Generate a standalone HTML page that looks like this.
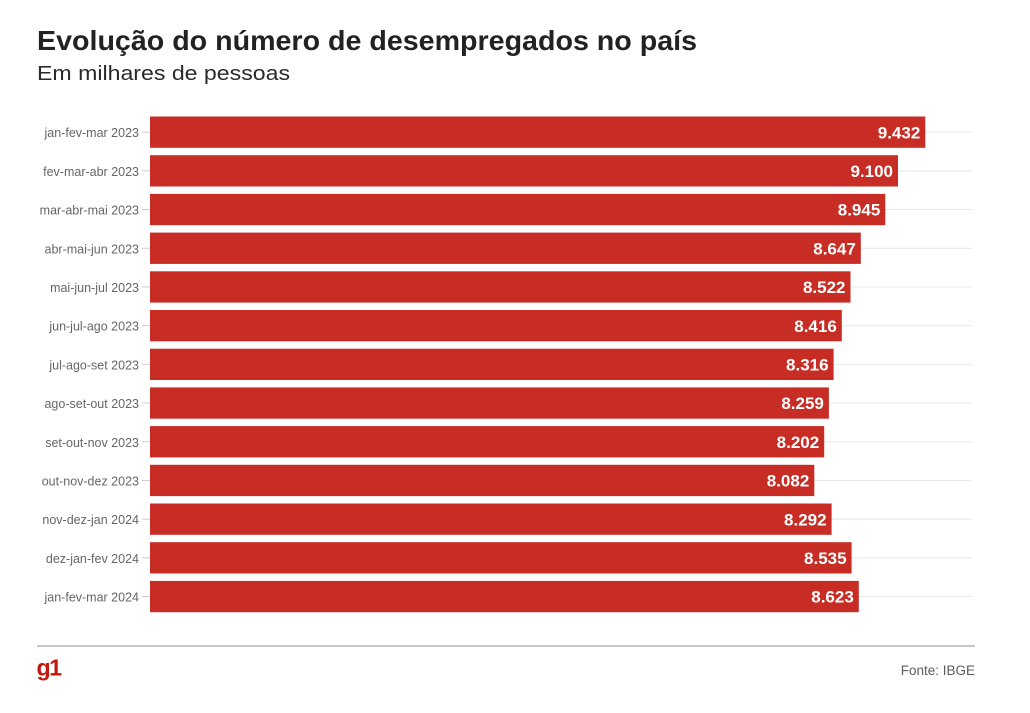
<!DOCTYPE html>
<html>
<head>
<meta charset="utf-8">
<style>
  html, body { margin: 0; padding: 0; background: #ffffff; }
  svg { display: block; }
  text { font-family: "Liberation Sans", "DejaVu Sans", sans-serif; }
</style>
</head>
<body>
<svg width="1030" height="713" viewBox="0 0 1030 713" xmlns="http://www.w3.org/2000/svg">
  <rect width="1030" height="713" fill="#ffffff"/>
  <!-- Title -->
  <text x="37" y="50" font-size="28" font-weight="bold" fill="#222222" textLength="660" lengthAdjust="spacingAndGlyphs">Evolução do número de desempregados no país</text>
  <text x="37" y="80" font-size="20" fill="#2a2a2a" textLength="253" lengthAdjust="spacingAndGlyphs">Em milhares de pessoas</text>

  <!-- gridlines -->
  <g stroke="#e8e8e8" stroke-width="1">
    <line x1="150" y1="132.15" x2="972" y2="132.15"/>
    <line x1="150" y1="170.85" x2="972" y2="170.85"/>
    <line x1="150" y1="209.55" x2="972" y2="209.55"/>
    <line x1="150" y1="248.25" x2="972" y2="248.25"/>
    <line x1="150" y1="286.95" x2="972" y2="286.95"/>
    <line x1="150" y1="325.65" x2="972" y2="325.65"/>
    <line x1="150" y1="364.35" x2="972" y2="364.35"/>
    <line x1="150" y1="403.05" x2="972" y2="403.05"/>
    <line x1="150" y1="441.75" x2="972" y2="441.75"/>
    <line x1="150" y1="480.45" x2="972" y2="480.45"/>
    <line x1="150" y1="519.15" x2="972" y2="519.15"/>
    <line x1="150" y1="557.85" x2="972" y2="557.85"/>
    <line x1="150" y1="596.55" x2="972" y2="596.55"/>
  </g>
  <!-- ticks -->
  <g stroke="#cccccc" stroke-width="1">
    <line x1="142" y1="132.15" x2="150" y2="132.15"/>
    <line x1="142" y1="170.85" x2="150" y2="170.85"/>
    <line x1="142" y1="209.55" x2="150" y2="209.55"/>
    <line x1="142" y1="248.25" x2="150" y2="248.25"/>
    <line x1="142" y1="286.95" x2="150" y2="286.95"/>
    <line x1="142" y1="325.65" x2="150" y2="325.65"/>
    <line x1="142" y1="364.35" x2="150" y2="364.35"/>
    <line x1="142" y1="403.05" x2="150" y2="403.05"/>
    <line x1="142" y1="441.75" x2="150" y2="441.75"/>
    <line x1="142" y1="480.45" x2="150" y2="480.45"/>
    <line x1="142" y1="519.15" x2="150" y2="519.15"/>
    <line x1="142" y1="557.85" x2="150" y2="557.85"/>
    <line x1="142" y1="596.55" x2="150" y2="596.55"/>
  </g>

  <!-- bars -->
  <g fill="#c72d24">
    <rect x="150" y="116.5" width="775.3" height="31.3"/>
    <rect x="150" y="155.2" width="748.0" height="31.3"/>
    <rect x="150" y="193.9" width="735.3" height="31.3"/>
    <rect x="150" y="232.6" width="710.8" height="31.3"/>
    <rect x="150" y="271.3" width="700.5" height="31.3"/>
    <rect x="150" y="310.0" width="691.8" height="31.3"/>
    <rect x="150" y="348.7" width="683.6" height="31.3"/>
    <rect x="150" y="387.4" width="678.9" height="31.3"/>
    <rect x="150" y="426.1" width="674.2" height="31.3"/>
    <rect x="150" y="464.8" width="664.3" height="31.3"/>
    <rect x="150" y="503.5" width="681.6" height="31.3"/>
    <rect x="150" y="542.2" width="701.6" height="31.3"/>
    <rect x="150" y="580.9" width="708.8" height="31.3"/>
  </g>

  <!-- category labels -->
  <g font-size="12.5" fill="#666666" text-anchor="end">
    <text x="139" y="137.2">jan-fev-mar 2023</text>
    <text x="139" y="175.9">fev-mar-abr 2023</text>
    <text x="139" y="214.6">mar-abr-mai 2023</text>
    <text x="139" y="253.3">abr-mai-jun 2023</text>
    <text x="139" y="292.0">mai-jun-jul 2023</text>
    <text x="139" y="330.7">jun-jul-ago 2023</text>
    <text x="139" y="369.4">jul-ago-set 2023</text>
    <text x="139" y="408.1">ago-set-out 2023</text>
    <text x="139" y="446.8">set-out-nov 2023</text>
    <text x="139" y="485.5">out-nov-dez 2023</text>
    <text x="139" y="524.2">nov-dez-jan 2024</text>
    <text x="139" y="562.9">dez-jan-fev 2024</text>
    <text x="139" y="601.6">jan-fev-mar 2024</text>
  </g>

  <!-- value labels -->
  <g font-size="17" font-weight="bold" fill="#ffffff" text-anchor="end">
    <text x="920.3" y="138.3">9.432</text>
    <text x="893.0" y="177.0">9.100</text>
    <text x="880.3" y="215.7">8.945</text>
    <text x="855.8" y="254.4">8.647</text>
    <text x="845.5" y="293.1">8.522</text>
    <text x="836.8" y="331.8">8.416</text>
    <text x="828.6" y="370.5">8.316</text>
    <text x="823.9" y="409.2">8.259</text>
    <text x="819.2" y="447.9">8.202</text>
    <text x="809.3" y="486.6">8.082</text>
    <text x="826.6" y="525.3">8.292</text>
    <text x="846.6" y="564.0">8.535</text>
    <text x="853.8" y="602.7">8.623</text>
  </g>

  <!-- footer -->
  <rect x="37" y="645" width="938" height="2" fill="#c8c8c8"/>
  <text x="36.5" y="675.5" font-size="23" font-weight="bold" fill="#c4170c" letter-spacing="-1.5" textLength="24" lengthAdjust="spacingAndGlyphs">g1</text>
  <text x="975" y="675" font-size="13.5" fill="#5c5c5c" text-anchor="end">Fonte: IBGE</text>
</svg>
</body>
</html>
